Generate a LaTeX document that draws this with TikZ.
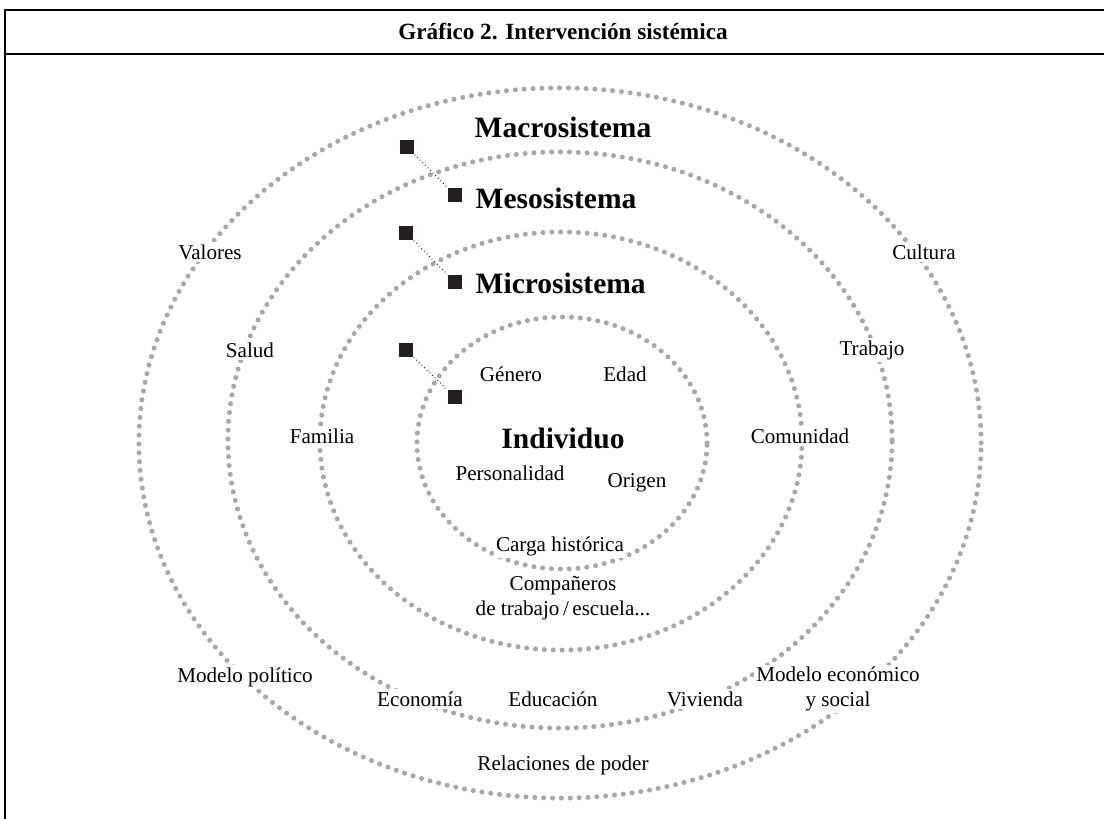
\documentclass[tikz,border=0pt]{standalone}
\usepackage{fontspec}
\setmainfont{Liberation Serif}
\definecolor{ringgray}{RGB}{166,168,171}
\definecolor{sqblack}{RGB}{35,31,32}
\begin{document}
\begin{tikzpicture}[x=0.025cm,y=-0.025cm,
  ring/.style={draw=ringgray,line width=3.6pt,line cap=round,dash pattern=on 0pt off 6.3pt},
  lab/.style={fill=white,inner sep=1.5pt,align=center,font=\fontsize{15}{17.5}\selectfont},
  sys/.style={inner sep=1pt,font=\fontsize{21}{23}\selectfont\bfseries},
  sqbox/.style={fill=sqblack,minimum size=10.5pt,inner sep=0pt},
  link/.style={dotted,line width=0.6pt}]
\useasboundingbox (0,0) rectangle (1104,819);
% frame and title
\draw[line width=1.8pt] (5,830) -- (5,10) -- (1115,10);
\draw[line width=1.8pt] (5,54) -- (1115,54);
\node (title) at (563,32) {\fontsize{16.5}{19}\selectfont\bfseries Gráfico 2. Intervención sistémica};
% rings
\draw[ring] (560,443) ellipse [x radius=10.525cm,y radius=8.875cm];
\draw[ring] (560,440) ellipse [x radius=8.3cm,y radius=7.2cm];
\draw[ring] (561,441) ellipse [x radius=6.025cm,y radius=5.225cm];
\draw[ring] (562,443) ellipse [x radius=3.625cm,y radius=3.15cm];
% system names
\node[sys] (macro) at (563,127) {Macrosistema};
\node[sqbox] (sq1) at (407,147) {};
\node[sqbox] (sq2) at (455,195) {};
\node[sys,anchor=west] (meso) at (474,198) {Mesosistema};
\node[sqbox] (sq3) at (406,233) {};
\node[sqbox] (sq4) at (455,282) {};
\node[sys,anchor=west] (micro) at (474,283) {Microsistema};
\node[sqbox] (sq5) at (406,350) {};
\node[sqbox] (sq6) at (455,397) {};
\node[sys] (indiv) at (563,438) {Individuo};
\draw[link] (sq1) -- (sq2);
\draw[link] (sq3) -- (sq4);
\draw[link] (sq5) -- (sq6);
% individuo
\node[lab] (genero) at (511,374) {Género};
\node[lab] (edad) at (625,374) {Edad};
\node[lab] (person) at (510,473) {Personalidad};
\node[lab] (origen) at (637,483) {Origen};
\node[lab] (carga) at (560,546) {Carga histórica};
% microsistema
\node[lab] (familia) at (322,436) {Familia};
\node[lab] (comunidad) at (800,436) {Comunidad};
\node[lab] (companeros) at (563,598) {Compañeros\\de trabajo\,/\,escuela...};
% mesosistema
\node[lab] (salud) at (250,350) {Salud};
\node[lab] (trabajo) at (872,350) {Trabajo};
\node[lab] (economia) at (420,699) {Economía};
\node[lab] (educacion) at (553,699) {Educación};
\node[lab] (vivienda) at (705,699) {Vivienda};
% macrosistema
\node[lab] (valores) at (210,252) {Valores};
\node[lab] (cultura) at (924,252) {Cultura};
\node[lab] (mpolitico) at (245,677) {Modelo político};
\node[lab] (meconomico) at (838,689) {Modelo económico\\y social};
\node[lab] (poder) at (563,765) {Relaciones de poder};
\end{tikzpicture}
\end{document}
